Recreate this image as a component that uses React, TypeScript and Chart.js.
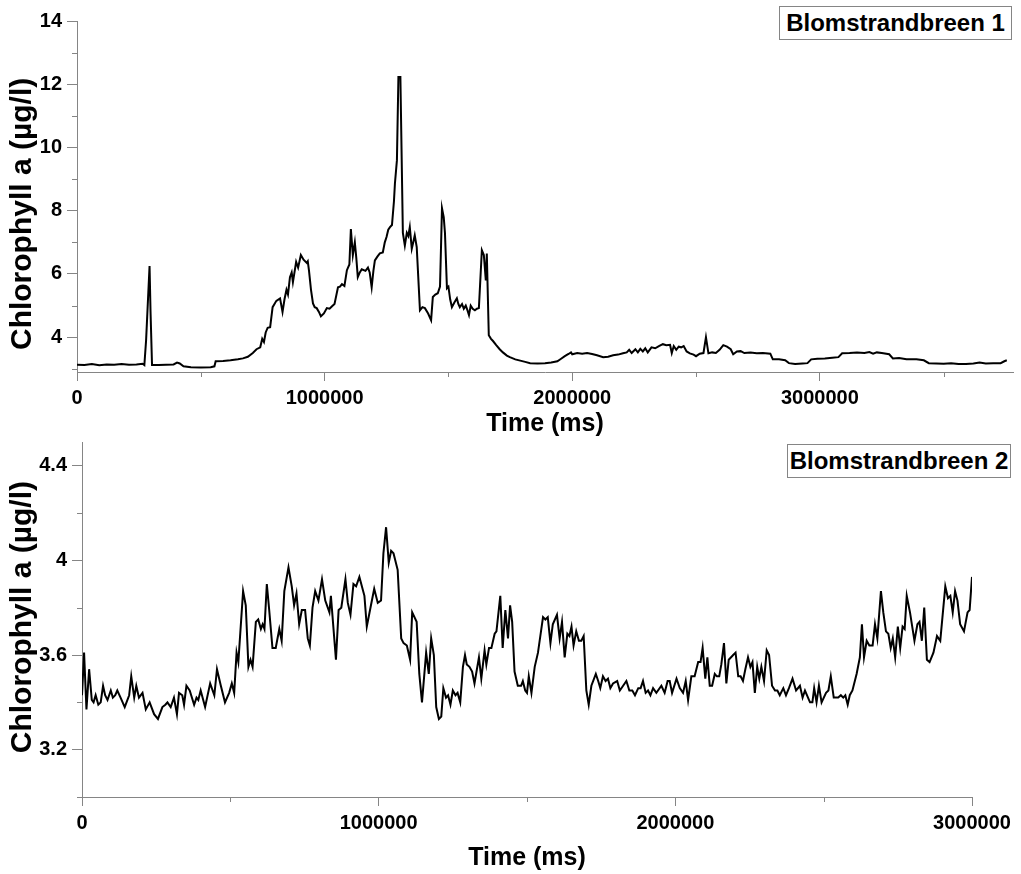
import React, { useEffect, useRef } from "react";
import { Chart, registerables } from "chart.js";

Chart.register(...registerables);

const FONT = '"Liberation Sans", Arial, Helvetica, sans-serif';
const AXIS_GRAY = "#858585";

// ---------- Blomstrandbreen 1 ----------
const timeA = [
  0, 30000, 60000, 90000, 120000, 150000, 180000, 210000, 240000, 265000,
  272000, 279000, 293000, 297000, 303000, 330000, 360000, 390000, 404000, 415000,
  430000, 460000, 500000, 540000, 555000, 560000, 590000, 620000, 650000, 670000,
  690000, 710000, 725000, 740000, 748000, 755000, 762000, 770000, 780000, 790000,
  805000, 820000, 830000, 838000, 846000, 852000, 860000, 867000, 872000, 885000,
  893000, 904000, 915000, 928000, 932000, 937000, 945000, 953000, 960000, 968000,
  977000, 985000, 997000, 1009000, 1020000, 1030000, 1040000, 1054000, 1062000, 1070000,
  1080000, 1090000, 1100000, 1106000, 1114000, 1122000, 1128000, 1134000, 1142000, 1150000,
  1165000, 1175000, 1182000, 1190000, 1197000, 1203000, 1213000, 1223000, 1235000, 1243000,
  1250000, 1257000, 1264000, 1272000, 1280000, 1284000, 1292000, 1298000, 1306000, 1316000,
  1324000, 1332000, 1338000, 1344000, 1352000, 1358000, 1364000, 1372000, 1385000, 1395000,
  1405000, 1418000, 1430000, 1437000, 1447000, 1457000, 1466000, 1474000, 1481000, 1486000,
  1494000, 1500000, 1507000, 1514000, 1524000, 1534000, 1540000, 1546000, 1555000, 1562000,
  1570000, 1577000, 1583000, 1590000, 1598000, 1607000, 1615000, 1623000, 1635000, 1643000,
  1651000, 1655000, 1663000, 1672000, 1680000, 1693000, 1707000, 1720000, 1736000, 1748000,
  1770000, 1790000, 1810000, 1830000, 1860000, 1890000, 1915000, 1940000, 1955000, 1970000,
  1985000, 1995000, 2000000, 2020000, 2040000, 2060000, 2080000, 2100000, 2125000, 2145000,
  2165000, 2185000, 2205000, 2220000, 2230000, 2240000, 2255000, 2265000, 2275000, 2285000,
  2295000, 2305000, 2320000, 2335000, 2350000, 2366000, 2380000, 2395000, 2402000, 2410000,
  2420000, 2430000, 2440000, 2450000, 2462000, 2475000, 2490000, 2500000, 2515000, 2530000,
  2540000, 2550000, 2565000, 2580000, 2595000, 2610000, 2625000, 2640000, 2650000, 2665000,
  2680000, 2695000, 2720000, 2745000, 2770000, 2800000, 2810000, 2835000, 2860000, 2875000,
  2900000, 2930000, 2950000, 2965000, 2990000, 3020000, 3050000, 3075000, 3090000, 3120000,
  3150000, 3180000, 3200000, 3215000, 3230000, 3250000, 3280000, 3295000, 3320000, 3350000,
  3390000, 3420000, 3440000, 3470000, 3500000, 3530000, 3560000, 3590000, 3620000, 3645000,
  3670000, 3700000, 3730000, 3745000, 3755000,
];
const chlA = [
  3.13, 3.12, 3.15, 3.11, 3.14, 3.13, 3.15, 3.13, 3.14, 3.16,
  3.12, 3.9, 6.25, 4.8, 3.12, 3.12, 3.13, 3.14, 3.2, 3.17,
  3.08, 3.05, 3.04, 3.05, 3.08, 3.24, 3.25, 3.27, 3.3, 3.33,
  3.38, 3.5, 3.62, 3.68, 3.95, 3.85, 4.15, 4.3, 4.32, 4.95,
  5.15, 5.23, 4.8, 5.2, 5.5, 5.35, 5.9, 6.05, 5.74, 6.38,
  6.2, 6.6, 6.45, 6.35, 6.4, 6.1, 5.5, 5.07, 4.95, 4.92,
  4.8, 4.66, 4.75, 4.92, 4.9, 4.98, 5.05, 5.58, 5.6, 5.68,
  5.62, 6.12, 6.3, 7.42, 6.6, 7.0, 6.5, 5.9, 6.05, 6.15,
  6.1, 6.2, 6.05, 5.58, 6.1, 6.43, 6.55, 6.65, 6.68, 7.0,
  7.17, 7.4, 7.48, 7.55, 8.3, 8.87, 9.6, 12.23, 12.23, 7.3,
  6.9, 7.3, 7.2, 7.48, 6.8, 7.0, 7.22, 6.85, 4.85, 4.95,
  4.92, 4.75, 4.54, 5.27, 5.35, 5.39, 5.6, 8.08, 7.8, 7.3,
  5.55, 5.6, 5.2, 4.95, 5.1, 5.23, 5.05, 4.95, 5.05, 4.9,
  5.0, 4.85, 4.7, 5.0, 4.9, 4.85, 4.9, 4.92, 6.75, 6.6,
  5.8, 6.65, 4.06, 3.95, 3.88, 3.75, 3.62, 3.52, 3.42, 3.37,
  3.3, 3.26, 3.22, 3.18, 3.17, 3.18, 3.2, 3.24, 3.32, 3.4,
  3.47, 3.52, 3.46, 3.5, 3.48, 3.5, 3.47, 3.43, 3.37, 3.38,
  3.43, 3.45, 3.49, 3.52, 3.6, 3.5, 3.62, 3.52, 3.63, 3.55,
  3.65, 3.52, 3.68, 3.65, 3.72, 3.78, 3.75, 3.76, 3.5, 3.72,
  3.6, 3.7, 3.68, 3.72, 3.55, 3.49, 3.45, 3.4, 3.48, 3.5,
  4.0, 3.49, 3.52, 3.5, 3.6, 3.75, 3.7, 3.62, 3.46, 3.55,
  3.56, 3.5, 3.52, 3.49, 3.5, 3.48, 3.3, 3.3, 3.27, 3.18,
  3.15, 3.17, 3.18, 3.3, 3.32, 3.33, 3.35, 3.37, 3.49, 3.5,
  3.52, 3.5, 3.53, 3.48, 3.52, 3.5, 3.46, 3.33, 3.34, 3.3,
  3.3, 3.27, 3.18, 3.17, 3.16, 3.18, 3.15, 3.15, 3.17, 3.2,
  3.17, 3.18, 3.18, 3.24, 3.27,
];
const xMajorA = [0, 1000000, 2000000, 3000000];
const xMinorA = [500000, 1500000, 2500000, 3500000];
const yMajorA = [4, 6, 8, 10, 12, 14];
const yMinorA = [3, 5, 7, 9, 11, 13];

// ---------- Blomstrandbreen 2 ----------
const timeB = [
  0, 7000, 15000, 24000, 33000, 39000, 46000, 55000, 63000, 71000,
  78000, 86000, 97000, 104000, 112000, 119000, 130000, 144000, 159000, 166000,
  176000, 183000, 192000, 204000, 215000, 228000, 243000, 256000, 271000, 281000,
  288000, 299000, 310000, 320000, 327000, 338000, 344000, 352000, 363000, 378000,
  386000, 392000, 400000, 415000, 432000, 446000, 455000, 468000, 482000, 496000,
  505000, 513000, 521000, 527000, 543000, 552000, 561000, 568000, 575000, 586000,
  594000, 603000, 609000, 615000, 623000, 631000, 642000, 653000, 665000, 673000,
  682000, 696000, 707000, 715000, 723000, 732000, 741000, 752000, 761000, 768000,
  777000, 786000, 797000, 809000, 820000, 834000, 839000, 856000, 865000, 874000,
  888000, 896000, 905000, 915000, 924000, 935000, 952000, 960000, 974000, 985000,
  997000, 1008000, 1016000, 1025000, 1034000, 1042000, 1050000, 1064000, 1076000, 1084000,
  1095000, 1106000, 1113000, 1128000, 1137000, 1146000, 1160000, 1169000, 1177000, 1186000,
  1194000, 1203000, 1211000, 1218000, 1227000, 1234000, 1242000, 1250000, 1259000, 1266000,
  1275000, 1284000, 1291000, 1297000, 1306000, 1315000, 1323000, 1338000, 1346000, 1357000,
  1363000, 1372000, 1380000, 1391000, 1397000, 1410000, 1418000, 1427000, 1436000, 1443000,
  1450000, 1458000, 1469000, 1480000, 1486000, 1494000, 1500000, 1506000, 1515000, 1526000,
  1537000, 1554000, 1562000, 1570000, 1579000, 1587000, 1601000, 1610000, 1618000, 1627000,
  1636000, 1643000, 1650000, 1657000, 1666000, 1675000, 1683000, 1691000, 1700000, 1708000,
  1717000, 1732000, 1740000, 1747000, 1756000, 1765000, 1773000, 1781000, 1790000, 1804000,
  1813000, 1824000, 1835000, 1845000, 1855000, 1864000, 1875000, 1883000, 1891000, 1900000,
  1908000, 1916000, 1925000, 1936000, 1953000, 1964000, 1974000, 1981000, 1989000, 2004000,
  2015000, 2026000, 2035000, 2043000, 2054000, 2065000, 2077000, 2085000, 2092000, 2101000,
  2108000, 2116000, 2124000, 2133000, 2140000, 2148000, 2155000, 2164000, 2172000, 2180000,
  2195000, 2203000, 2212000, 2220000, 2228000, 2236000, 2245000, 2253000, 2260000, 2268000,
  2276000, 2283000, 2290000, 2299000, 2308000, 2316000, 2326000, 2336000, 2344000, 2352000,
  2364000, 2373000, 2383000, 2395000, 2407000, 2420000, 2429000, 2437000, 2454000, 2462000,
  2468000, 2476000, 2484000, 2493000, 2508000, 2516000, 2524000, 2534000, 2549000, 2558000,
  2566000, 2573000, 2581000, 2588000, 2597000, 2611000, 2622000, 2629000, 2636000, 2645000,
  2654000, 2665000, 2673000, 2681000, 2693000, 2701000, 2710000, 2718000, 2726000, 2733000,
  2741000, 2750000, 2758000, 2766000, 2773000, 2780000, 2791000, 2806000, 2816000, 2823000,
  2831000, 2839000, 2848000, 2857000, 2870000, 2882000, 2893000, 2910000, 2919000, 2927000,
  2935000, 2943000, 2951000, 2960000, 2973000, 2985000, 2992000, 3000000,
];
const chlB = [
  3.43, 3.61, 3.37, 3.54, 3.41, 3.40, 3.43, 3.39, 3.40, 3.47,
  3.43, 3.41, 3.45, 3.42, 3.43, 3.45, 3.42, 3.38, 3.43, 3.51,
  3.42, 3.47, 3.42, 3.44, 3.37, 3.40, 3.35, 3.33, 3.38, 3.39,
  3.40, 3.38, 3.42, 3.35, 3.44, 3.43, 3.39, 3.47, 3.45, 3.39,
  3.42, 3.41, 3.45, 3.38, 3.48, 3.43, 3.54, 3.47, 3.40, 3.44,
  3.48, 3.44, 3.61, 3.57, 3.87, 3.81, 3.55, 3.58, 3.55, 3.74,
  3.75, 3.71, 3.73, 3.71, 3.90, 3.79, 3.63, 3.63, 3.71, 3.66,
  3.87, 3.97, 3.89, 3.81, 3.86, 3.73, 3.79, 3.79, 3.67, 3.64,
  3.80, 3.87, 3.83, 3.92, 3.83, 3.78, 3.85, 3.58, 3.79, 3.80,
  3.92, 3.82, 3.77, 3.90, 3.89, 3.93, 3.85, 3.72, 3.81, 3.88,
  3.82, 3.83, 4.03, 4.14, 3.99, 4.04, 4.03, 3.96, 3.67, 3.65,
  3.64, 3.58, 3.78, 3.74, 3.52, 3.40, 3.61, 3.52, 3.67, 3.60,
  3.38, 3.33, 3.34, 3.46, 3.42, 3.43, 3.39, 3.45, 3.43, 3.44,
  3.40, 3.55, 3.60, 3.56, 3.55, 3.53, 3.48, 3.59, 3.50, 3.62,
  3.56, 3.63, 3.63, 3.69, 3.70, 3.85, 3.63, 3.79, 3.67, 3.81,
  3.74, 3.53, 3.47, 3.47, 3.49, 3.45, 3.44, 3.51, 3.44, 3.55,
  3.61, 3.76, 3.75, 3.76, 3.65, 3.73, 3.77, 3.67, 3.74, 3.59,
  3.69, 3.68, 3.72, 3.64, 3.70, 3.66, 3.66, 3.68, 3.45, 3.39,
  3.47, 3.52, 3.49, 3.46, 3.51, 3.49, 3.50, 3.46, 3.48, 3.49,
  3.45, 3.47, 3.49, 3.45, 3.45, 3.43, 3.46, 3.46, 3.49, 3.44,
  3.45, 3.43, 3.46, 3.44, 3.47, 3.44, 3.49, 3.49, 3.44, 3.50,
  3.46, 3.44, 3.49, 3.41, 3.51, 3.51, 3.57, 3.57, 3.63, 3.50,
  3.59, 3.47, 3.47, 3.52, 3.51, 3.51, 3.56, 3.65, 3.48, 3.58,
  3.60, 3.61, 3.51, 3.51, 3.49, 3.54, 3.59, 3.55, 3.57, 3.44,
  3.55, 3.50, 3.55, 3.49, 3.62, 3.60, 3.47, 3.45, 3.45, 3.43,
  3.46, 3.43, 3.46, 3.50, 3.45, 3.47, 3.42, 3.45, 3.40, 3.40,
  3.46, 3.40, 3.47, 3.40, 3.44, 3.45, 3.51, 3.42, 3.42, 3.43,
  3.42, 3.43, 3.39, 3.43, 3.45, 3.52, 3.59, 3.73, 3.59, 3.66,
  3.64, 3.64, 3.73, 3.67, 3.87, 3.78, 3.70, 3.69, 3.63, 3.67,
  3.59, 3.72, 3.63, 3.72, 3.71, 3.85, 3.78, 3.66, 3.73, 3.74,
  3.66, 3.80, 3.58, 3.57, 3.61, 3.68, 3.66, 3.89, 3.84, 3.85,
  3.78, 3.87, 3.83, 3.73, 3.70, 3.78, 3.79, 3.93,
];
const xMajorB = [0, 1000000, 2000000, 3000000];
const xMinorB = [500000, 1500000, 2500000];
const yMajorB = [3.2, 3.6, 4.0, 4.4];
const yMinorB = [3.0, 3.4, 3.8, 4.2];

const X_TITLE = "Time (ms)";
const Y_TITLE = "Chlorophyll a (\u00b5g/l)";

const minorTicks = {
  id: "minorTicks",
  afterDraw(chart: any, _args: any, opts: any) {
    const ctx = chart.ctx;
    const xs = chart.scales.x;
    const ys = chart.scales.y;
    ctx.save();
    ctx.strokeStyle = opts.color;
    ctx.lineWidth = 1;
    ctx.beginPath();
    for (const v of opts.x || []) {
      const px = Math.round(xs.getPixelForValue(v)) + 0.5;
      ctx.moveTo(px, xs.top);
      ctx.lineTo(px, xs.top + opts.len);
    }
    for (const v of opts.y || []) {
      const py = Math.round(ys.getPixelForValue(v)) + 0.5;
      ctx.moveTo(ys.right - opts.len, py);
      ctx.lineTo(ys.right, py);
    }
    ctx.stroke();
    ctx.restore();
  },
};

// Rotated y-axis title, centred on a chosen value of the y scale
const yTitle = {
  id: "yTitle",
  afterDraw(chart: any, _args: any, opts: any) {
    const ctx = chart.ctx;
    const ys = chart.scales.y;
    ctx.save();
    ctx.translate(ys.left + opts.offset, ys.getPixelForValue(opts.center));
    ctx.rotate(-Math.PI / 2);
    ctx.textAlign = "center";
    ctx.textBaseline = "middle";
    ctx.fillStyle = "#000";
    ctx.font = `bold ${opts.size}px ${FONT}`;
    ctx.fillText(opts.text, 0, 0);
    ctx.restore();
  },
};

type PanelSpec = {
  times: number[];
  values: number[];
  xMax: number;
  yMin: number;
  yMax: number;
  xMajor: number[];
  xMinor: number[];
  yMajor: number[];
  yMinor: number[];
  yWidth: number;
  xHeight: number;
  padding: { top: number; right: number; bottom: number; left: number };
  yTitleCenter: number;
};

function buildConfig(p: PanelSpec): any {
  return {
    type: "line",
    data: {
      datasets: [
        {
          data: p.times.map((t, i) => ({ x: t, y: p.values[i] })),
          borderColor: "#000000",
          borderWidth: 2,
          pointRadius: 0,
          tension: 0,
          fill: false,
        },
      ],
    },
    options: {
      responsive: false,
      animation: false,
      events: [],
      layout: { padding: p.padding },
      plugins: {
        legend: { display: false },
        tooltip: { enabled: false },
        minorTicks: { x: p.xMinor, y: p.yMinor, len: 5, color: AXIS_GRAY },
        yTitle: { text: Y_TITLE, size: 30, offset: 23, center: p.yTitleCenter },
      },
      scales: {
        x: {
          type: "linear",
          min: 0,
          max: p.xMax,
          afterBuildTicks: (s: any) => {
            s.ticks = p.xMajor.map((v) => ({ value: v }));
          },
          afterFit: (s: any) => {
            s.height = p.xHeight;
          },
          border: { display: true, color: AXIS_GRAY, width: 1 },
          grid: {
            display: true,
            drawOnChartArea: false,
            drawTicks: true,
            tickLength: 9,
            tickColor: AXIS_GRAY,
          },
          ticks: {
            autoSkip: false,
            maxRotation: 0,
            padding: 5,
            color: "#000",
            font: { family: FONT, size: 20, weight: "bold" },
            callback: (v: any) => String(v),
          },
          title: {
            display: true,
            text: X_TITLE,
            color: "#000",
            font: { family: FONT, size: 25, weight: "bold" },
            padding: { top: 0, bottom: 0 },
          },
        },
        y: {
          type: "linear",
          min: p.yMin,
          max: p.yMax,
          afterBuildTicks: (s: any) => {
            s.ticks = p.yMajor.map((v) => ({ value: v }));
          },
          afterFit: (s: any) => {
            s.width = p.yWidth;
          },
          border: { display: true, color: AXIS_GRAY, width: 1 },
          grid: {
            display: true,
            drawOnChartArea: false,
            drawTicks: true,
            tickLength: 10,
            tickColor: AXIS_GRAY,
          },
          ticks: {
            padding: 5,
            color: "#000",
            font: { family: FONT, size: 20, weight: "bold" },
            callback: (v: any) => String(Math.round(v * 10) / 10),
          },
          title: { display: false },
        },
      },
    },
    plugins: [minorTicks, yTitle],
  };
}

const W = 1021;
const H = 874;

const panelA: PanelSpec = {
  times: timeA,
  values: chlA,
  xMax: 3780000,
  yMin: 2.9,
  yMax: 14,
  xMajor: xMajorA,
  xMinor: xMinorA,
  yMajor: yMajorA,
  yMinor: yMinorA,
  yWidth: 77,
  xHeight: 67,
  padding: { top: 21, right: 8, bottom: H - 372 - 67, left: 0 },
  yTitleCenter: 7.9,
};

const panelB: PanelSpec = {
  times: timeB,
  values: chlB,
  xMax: 3000000,
  yMin: 3.0,
  yMax: 4.5,
  xMajor: xMajorB,
  xMinor: xMinorB,
  yMajor: yMajorB,
  yMinor: yMinorB,
  yWidth: 82,
  xHeight: 76,
  padding: { top: 442, right: W - 972, bottom: H - 797 - 76, left: 0 },
  yTitleCenter: 3.76,
};

function Panel({ spec }: { spec: PanelSpec }) {
  const ref = useRef<HTMLCanvasElement | null>(null);
  useEffect(() => {
    if (!ref.current) return;
    const chart = new Chart(ref.current, buildConfig(spec));
    return () => chart.destroy();
  }, [spec]);
  return (
    <canvas
      ref={ref}
      width={W}
      height={H}
      style={{ position: "absolute", left: 0, top: 0, width: W, height: H }}
    />
  );
}

const boxStyle: React.CSSProperties = {
  position: "absolute",
  boxSizing: "border-box",
  border: `1px solid ${AXIS_GRAY}`,
  background: "#fff",
  fontFamily: FONT,
  fontWeight: "bold",
  fontSize: 24,
  color: "#000",
  textAlign: "center",
  whiteSpace: "nowrap",
  zIndex: 2,
};

export default function App() {
  return (
    <div
      style={{
        position: "absolute",
        left: 0,
        top: 0,
        width: W,
        height: H,
        background: "#fff",
        overflow: "hidden",
      }}
    >
      <Panel spec={panelA} />
      <Panel spec={panelB} />
      <div style={{ ...boxStyle, left: 779, top: 6, width: 233, height: 34, lineHeight: "32px" }}>
        Blomstrandbreen 1
      </div>
      <div style={{ ...boxStyle, left: 787, top: 444, width: 224, height: 34, lineHeight: "32px" }}>
        Blomstrandbreen 2
      </div>
    </div>
  );
}
